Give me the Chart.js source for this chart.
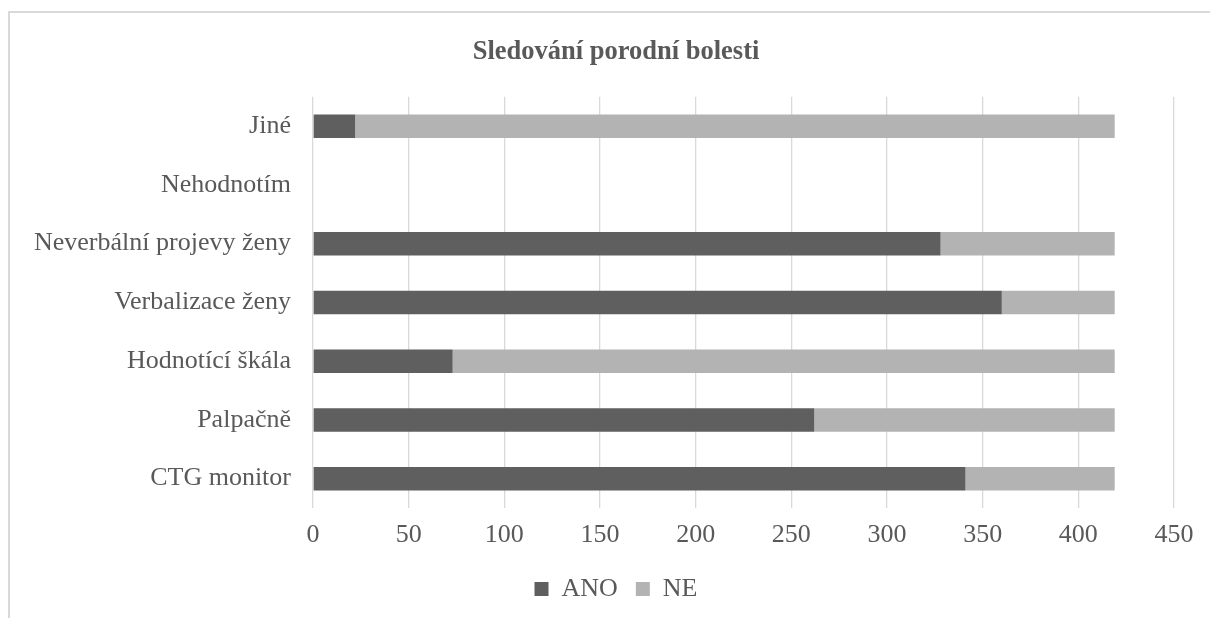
<!DOCTYPE html>
<html lang="cs">
<head>
<meta charset="utf-8">
<title>Sledování porodní bolesti</title>
<script src="https://cdn.jsdelivr.net/npm/chart.js@4.4.1/dist/chart.umd.min.js"></script>
<style>
  html, body { margin: 0; padding: 0; background: #ffffff; overflow: hidden; }
  #wrap { position: relative; width: 1210px; height: 618px; }
  #frame {
    position: absolute; left: 8px; top: 11px; width: 1300px; height: 700px;
    border: 2px solid #d9d9d9; box-sizing: border-box;
  }
  #chart { position: absolute; left: 0; top: 0; }
</style>
</head>
<body>
<div id="wrap">
  <div id="frame"></div>
  <canvas id="chart" width="1210" height="618"></canvas>
</div>
<script>
// Categories, top to bottom
const categories = [
  'Jiné',
  'Nehodnotím',
  'Neverbální projevy ženy',
  'Verbalizace ženy',
  'Hodnotící škála',
  'Palpačně',
  'CTG monitor'
];

// Number of answers per method
const anoValues = [22, 0, 328, 360, 73, 262, 341];
const neValues  = [397, 0, 91, 59, 346, 157, 78];

const seriesNames = ['ANO', 'NE'];
const xTicks = [0, 50, 100, 150, 200, 250, 300, 350, 400, 450];

const FONT = '"Liberation Serif", "Times New Roman", serif';
const TEXT = '#595959';

// Title and legend are centred over the whole frame, not only the area right of the labels
const centreBlocks = {
  id: 'centreBlocks',
  afterLayout(chart) {
    const shift = 29;
    chart.titleBlock.left += shift;
    chart.titleBlock.right += shift;
    chart.legend.left += shift;
    chart.legend.right += shift;
  }
};

new Chart(document.getElementById('chart'), {
  type: 'bar',
  data: {
    labels: categories,
    datasets: [
      {
        label: seriesNames[0],
        data: anoValues,
        backgroundColor: '#5f5f5f',
        barPercentage: 0.4,
        categoryPercentage: 1.0
      },
      {
        label: seriesNames[1],
        data: neValues,
        backgroundColor: '#b3b3b3',
        barPercentage: 0.4,
        categoryPercentage: 1.0
      }
    ]
  },
  plugins: [centreBlocks],
  options: {
    indexAxis: 'y',
    responsive: false,
    animation: false,
    layout: { padding: { left: 0, right: 36, top: 0, bottom: 6 } },
    plugins: {
      title: {
        display: true,
        text: 'Sledování porodní bolesti',
        color: TEXT,
        font: { family: FONT, size: 26.5, weight: 'bold' },
        padding: { top: 36, bottom: 29 }
      },
      legend: {
        position: 'bottom',
        labels: {
          color: TEXT,
          font: { family: FONT, size: 26 },
          boxWidth: 14,
          boxHeight: 14,
          padding: 18
        }
      },
      tooltip: { enabled: false }
    },
    scales: {
      x: {
        stacked: true,
        min: 0,
        max: 450,
        afterBuildTicks: (scale) => { scale.ticks = xTicks.map(v => ({ value: v })); },
        afterFit: (scale) => { scale.height = 50; },
        grid: { color: '#d9d9d9', lineWidth: 1.3, drawTicks: false },
        border: { display: false },
        ticks: {
          color: TEXT,
          font: { family: FONT, size: 26 },
          padding: 12,
          maxRotation: 0
        }
      },
      y: {
        stacked: true,
        afterFit: (scale) => { scale.width = 313; },
        grid: { display: false, drawTicks: false },
        border: { display: false },
        ticks: {
          color: TEXT,
          font: { family: FONT, size: 26 },
          padding: 22
        }
      }
    }
  }
});
</script>
</body>
</html>
